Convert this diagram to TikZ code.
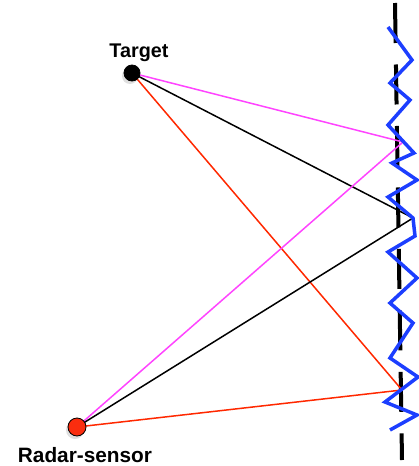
\documentclass[tikz,border=0pt]{standalone}
\usepackage{fontspec}
\setmainfont{Liberation Sans}
\usetikzlibrary{shadows}
\definecolor{zmag}{RGB}{255,68,255}
\definecolor{zred}{RGB}{255,40,0}
\definecolor{zblue}{RGB}{28,62,255}
\definecolor{zdot}{RGB}{250,45,15}
\tikzset{
  conn/.style={line width=1.5pt},
  dotnode/.style={circle, draw=black, line width=0.8pt, inner sep=0pt,
    drop shadow={opacity=0.25, shadow xshift=-2pt, shadow yshift=-3pt}},
  lab/.style={font=\bfseries, inner sep=0pt, anchor=base},
  wall/.style={line width=4pt, dash pattern=on 40pt off 21.5pt},
  zig/.style={zblue, line width=3.5pt}
}
\begin{document}
\begin{tikzpicture}[x=1pt,y=-1pt]
\useasboundingbox (0,0) rectangle (418,466);
% wall
\draw[wall] (395,3) -- (402,460);
% reflection points
\coordinate (m) at (403,142);
\coordinate (b) at (413,218);
\coordinate (r) at (402,390);
% dots (positions)
\coordinate (tc) at (132,73);
\coordinate (rc) at (77,427);
% connectors
\draw[conn, zmag] (tc) -- (m);
\draw[conn, black] (tc) -- (b);
\draw[conn, zred] (tc) -- (r);
\draw[conn, zmag] (rc) -- (m);
\draw[conn, black] (rc) -- (b);
\draw[conn, zred] (rc) -- (r);
% zigzag surface
\draw[zig] (388,27) -- (412,60) -- (390,83) -- (410,100) -- (388,125) -- (414,153)
  -- (392,163) -- (417,180) -- (388,197) -- (413,218) -- (415,236) -- (388,252)
  -- (417,278) -- (390,303) -- (413,323) -- (390,358) -- (418,377) -- (385,402)
  -- (417,415) -- (390,430);
% dots
\node[dotnode, fill=black, minimum size=16pt] (target) at (tc) {};
\node[dotnode, fill=zdot, minimum size=18pt] (radar) at (rc) {};
% labels
\node[lab, font=\fontsize{19.8}{22}\selectfont\bfseries] (tlab) at (139,57) {Target};
\node[lab, font=\fontsize{20.8}{22}\selectfont\bfseries] (rlab) at (85,462) {Radar-sensor};
\end{tikzpicture}
\end{document}
